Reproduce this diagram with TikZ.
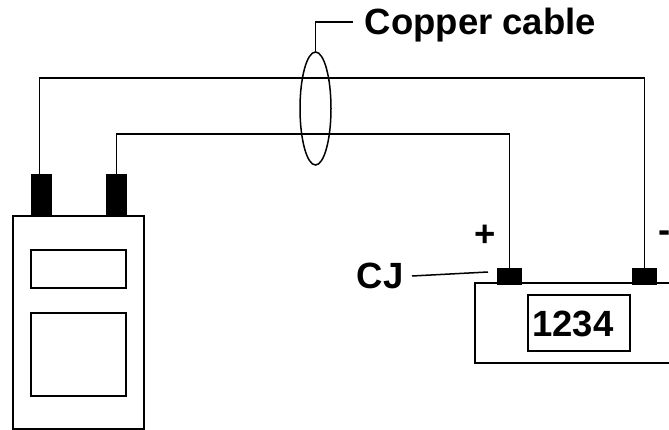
\documentclass[tikz,border=0pt]{standalone}
\usepackage{fontspec}
\setmainfont{Liberation Sans}
\usetikzlibrary{shapes.geometric}

\begin{document}
\begin{tikzpicture}[x=1pt, y=-1pt, line width=1.5pt,
		box/.style = {draw, rectangle, inner sep=0pt, outer sep=0pt},
		plug/.style = {fill=black, rectangle, inner sep=0pt, outer sep=0pt},
		label/.style = {inner sep=0pt, font=\fontsize{36.5}{36.5}\selectfont\bfseries}]
			\useasboundingbox (0,0) rectangle (669,430);
			\clip (0,0) rectangle (669,430);
			% meter
			\node[box, minimum width=131pt, minimum height=213pt] (meter) at (78.5,322.5) {};
			\node[box, minimum width=95pt, minimum height=38pt] (screen) at (78.5,269) {};
			\node[box, minimum width=95pt, minimum height=83pt] (keys) at (78.5,354.5) {};
			\node[plug, minimum width=21pt, minimum height=43pt] (plugA) at (41.5,195.5) {};
			\node[plug, minimum width=21pt, minimum height=43pt] (plugB) at (116.5,195.5) {};
			% instrument
			\node[box, minimum width=240pt, minimum height=80pt, anchor=north west] (panel) at (475,283) {};
			\node[box, minimum width=102pt, minimum height=56pt] (readout) at (579,323) {};
			\node[plug, minimum width=25pt, minimum height=17pt] (termA) at (509.5,276.5) {};
			\node[plug, minimum width=25pt, minimum height=17pt] (termB) at (644.5,276.5) {};
			% cable
			\coordinate (bendA) at (39.5,78);
			\coordinate (bendB) at (116.5,134);
			\draw (plugA.north -| bendA) -- (bendA) -| (termB.north);
			\draw (plugB.north) -- (bendB) -| (termA.north);
			\node[ellipse, draw, minimum width=31pt, minimum height=113pt, inner sep=0pt, outer sep=0pt] (sheath) at (315.5,108.5) {};
			% labels
			\node[label, anchor=base west] (cable) at (364,34.5) {Copper cable};
			\node[label, anchor=base west] (cj) at (356,288.5) {CJ};
			\node[label, anchor=base] (digits) at (573,336) {1234};
			\node[label] (plus) at (485,235.5) {+};
			\node[label, anchor=west] (minus) at (658,237) {-};
			\coordinate (cableEnd) at (353,22);
			\coordinate (cjEnd) at (488,272);
			\coordinate (cjStart) at (412,276);
			\draw (sheath.north) |- (cableEnd);
			\draw (cjStart) -- (cjEnd);
		\end{tikzpicture}
\end{document}
